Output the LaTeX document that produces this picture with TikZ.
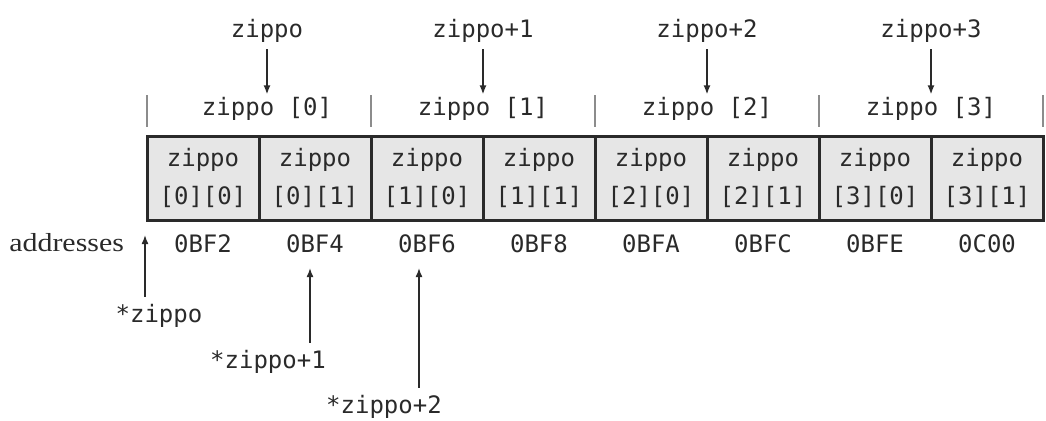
\documentclass[tikz,border=0pt]{standalone}
\usepackage{fontspec}
\usepackage{tikz}
\usetikzlibrary{chains,positioning,arrows.meta}
\setmainfont{Liberation Serif}
\newfontfamily\codefont{DejaVu Sans Mono}
\newfontfamily\addrfont[FakeStretch=1.15]{Liberation Serif}
\definecolor{cellgray}{HTML}{E6E6E6}
\definecolor{inkgray}{HTML}{2A2A2A}
\definecolor{tickgray}{HTML}{8C8C8C}

\begin{document}
\begin{tikzpicture}[
x=0.5pt,y=-0.5pt,
mytext/.style={
  font=\codefont\fontsize{12}{19}\selectfont,
  text=inkgray
  },
mycell/.style={
  mytext,
  draw=inkgray,
  line width=1.5pt,
  fill=cellgray,
  minimum width=56pt,
  minimum height=42pt,
  inner sep=0pt,
  outer sep=0pt,
  align=center
  },
mytick/.style={draw=tickgray,line width=1pt},
myarrow/.style={-{Latex[length=4.5pt,width=3.5pt]},draw=inkgray,line width=0.75pt},
start chain=going right,
node distance=0pt
]
\useasboundingbox (0,0) rectangle (1046,420);
% the eight cells of zippo[4][2]
\coordinate[on chain] (start) at (147,178);
\foreach \Row in {0,...,3}
  \foreach \Col in {0,1}
    \node[mycell,on chain] (c\Row\Col) {zippo\\{}[\Row][\Col]};
\foreach \Pos in {0,...,4}
  \draw[mytick] (147+224*\Pos,95) -- (147+224*\Pos,127);
% rows and pointers to them
\foreach \Row/\X/\Name in {0/267/zippo,1/483/zippo+1,2/707/zippo+2,3/931/zippo+3}
  {
  \node[mytext,anchor=base,inner sep=1pt] (g\Row) at (\X,115) {zippo [\Row]};
  \node[mytext,anchor=base] (t\Row) at (\X,37) {\Name};
  \draw[myarrow] (t\Row) -- (g\Row);
  }
% addresses
\node[anchor=base east,text=inkgray,font=\addrfont\fontsize{13}{15}\selectfont] (addr) at (131,251) {addresses};
\foreach \Value/\Addr in {0/0BF2,1/0BF4,2/0BF6,3/0BF8,4/0BFA,5/0BFC,6/0BFE,7/0C00}
  \node[mytext,anchor=base] (a\Value) at (203+112*\Value,252) {\Addr};
\node[mytext,anchor=base] (s0) at (159,322) {*zippo};
\node[mytext,anchor=base] (s1) at (268,368) {*zippo+1};
\node[mytext,anchor=base] (s2) at (384,413) {*zippo+2};
\coordinate (p0) at (145,235);
\coordinate (p1) at (310,268);
\coordinate (p2) at (419,268);
\draw[myarrow] (s0.north -| p0) -- (p0);
\draw[myarrow] (s1.north -| p1) -- (p1);
\draw[myarrow] (s2.north -| p2) -- (p2);
\end{tikzpicture}
\end{document}
